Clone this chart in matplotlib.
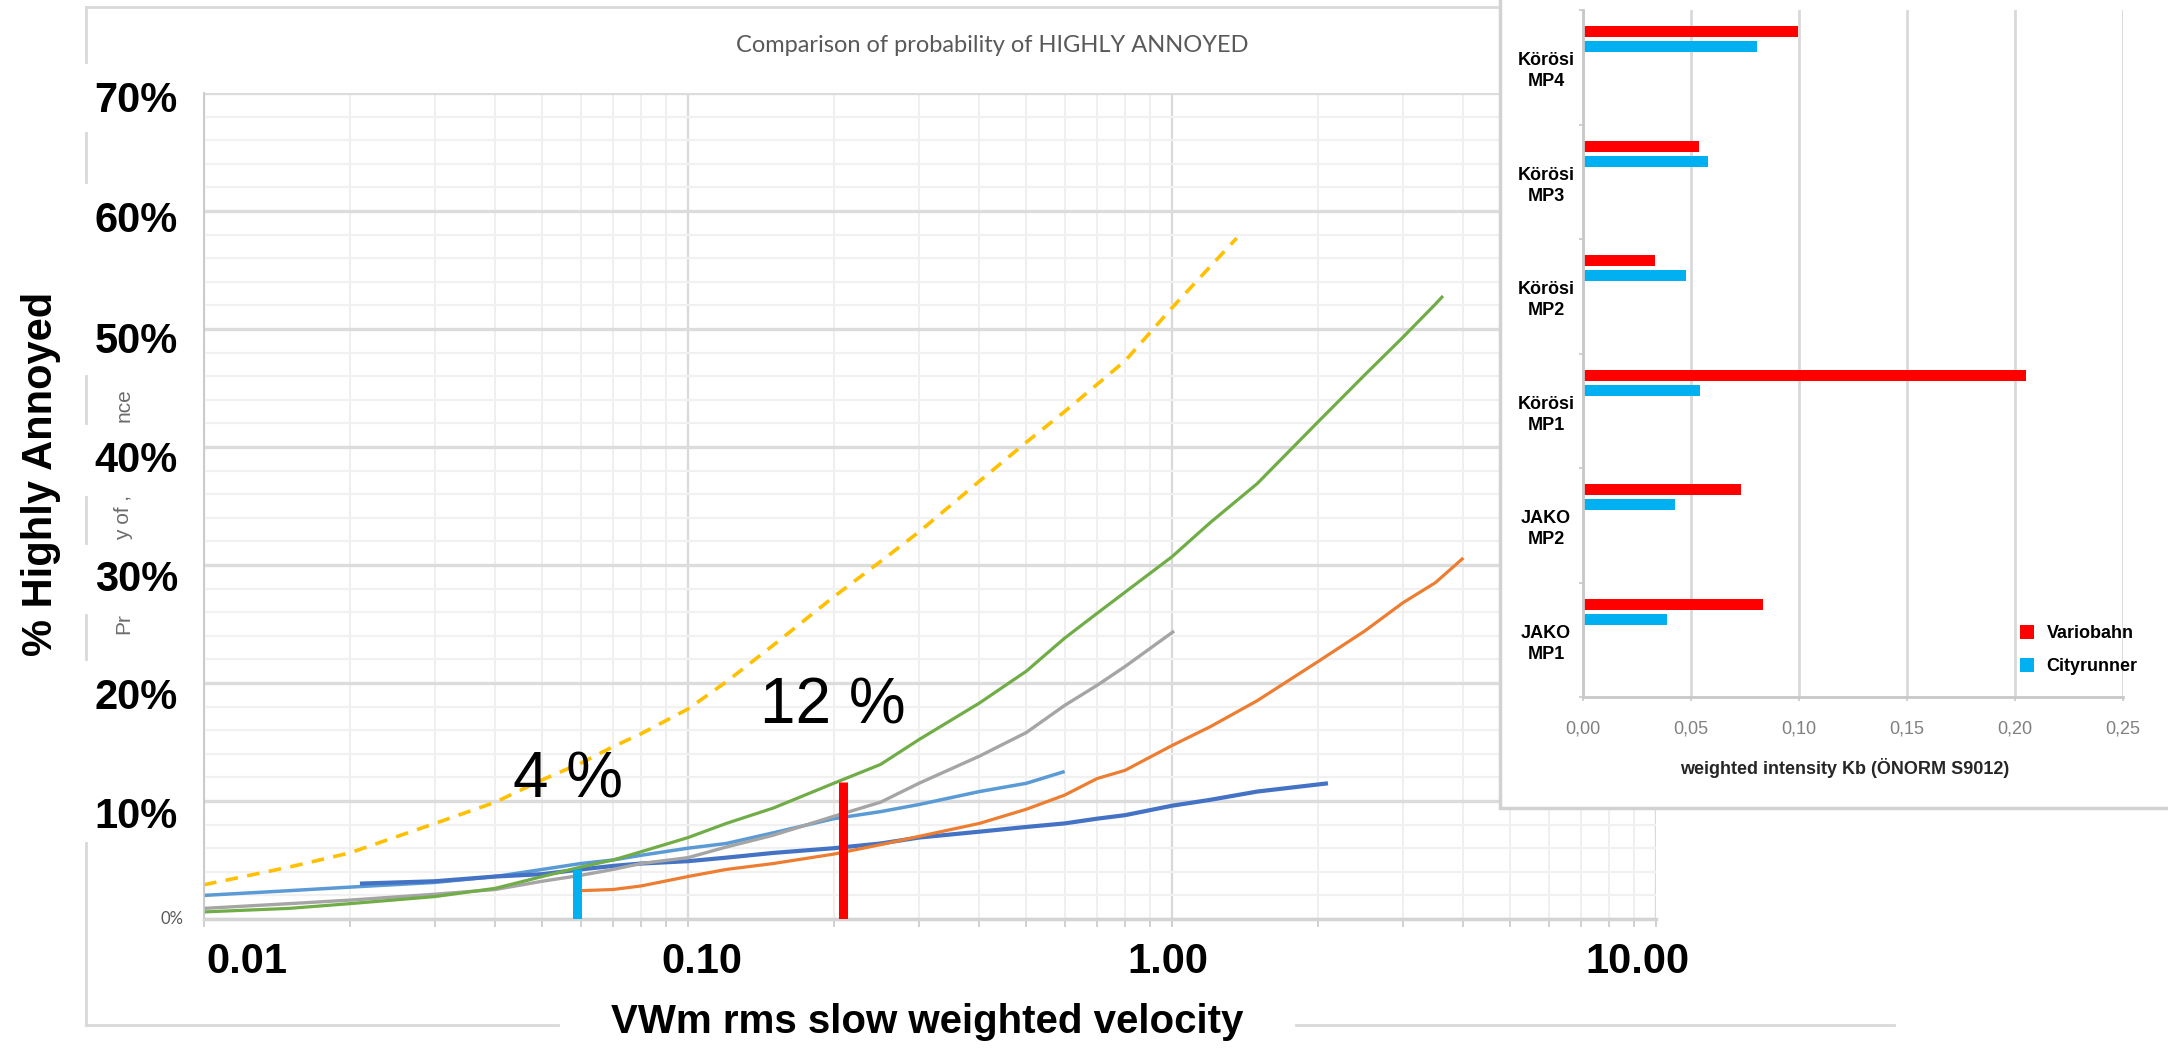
import numpy as np
import matplotlib
matplotlib.use('Agg')
import matplotlib.pyplot as plt
from matplotlib.patches import Rectangle
from matplotlib.lines import Line2D
from matplotlib.ticker import LogLocator, NullFormatter, FixedLocator, MultipleLocator

plt.rcParams['font.family'] = ['Liberation Sans', 'DejaVu Sans']

W, H = 2168, 1048

# --- main chart: % highly annoyed vs. VWm rms slow weighted velocity ---
yellow_x = [0.010, 0.015, 0.020, 0.030, 0.040, 0.050, 0.060, 0.070, 0.080, 0.10, 0.12, 0.15,
            0.20, 0.25, 0.30, 0.40, 0.50, 0.60, 0.70, 0.80, 1.00, 1.20, 1.36]
yellow_y = [2.9, 4.4, 5.6, 8.1, 9.9, 11.8, 13.2, 14.6, 15.7, 17.8, 20.1, 23.2,
            27.3, 30.3, 32.8, 37.1, 40.4, 43.0, 45.3, 47.3, 51.8, 55.3, 57.7]

green_x = [0.010, 0.015, 0.020, 0.030, 0.040, 0.050, 0.060, 0.070, 0.080, 0.10, 0.12, 0.15,
           0.20, 0.25, 0.30, 0.40, 0.50, 0.60, 0.70, 0.80, 1.00, 1.20, 1.50, 2.00, 2.50,
           3.00, 3.50, 3.63]
green_y = [0.6, 0.9, 1.3, 1.9, 2.6, 3.6, 4.4, 5.0, 5.7, 6.9, 8.1, 9.4,
           11.5, 13.1, 15.2, 18.3, 21.0, 23.8, 25.9, 27.7, 30.7, 33.6, 36.9, 42.1, 46.1,
           49.3, 52.1, 52.8]

gray_x = [0.010, 0.015, 0.020, 0.030, 0.040, 0.050, 0.060, 0.070, 0.080, 0.10, 0.12, 0.15,
          0.20, 0.25, 0.30, 0.40, 0.50, 0.60, 0.70, 0.80, 1.01]
gray_y = [0.9, 1.3, 1.6, 2.1, 2.5, 3.2, 3.7, 4.2, 4.7, 5.2, 6.1, 7.1,
          8.7, 9.9, 11.5, 13.8, 15.8, 18.1, 19.8, 21.4, 24.4]

lblue_x = [0.010, 0.015, 0.020, 0.030, 0.040, 0.050, 0.060, 0.070, 0.080, 0.10, 0.12, 0.15,
           0.20, 0.25, 0.30, 0.40, 0.50, 0.60]
lblue_y = [2.0, 2.4, 2.7, 3.1, 3.6, 4.2, 4.7, 5.0, 5.4, 6.0, 6.4, 7.3,
           8.5, 9.1, 9.7, 10.8, 11.5, 12.5]

dblue_x = [0.021, 0.030, 0.040, 0.050, 0.060, 0.070, 0.080, 0.10, 0.12, 0.15, 0.20, 0.25,
           0.30, 0.40, 0.50, 0.60, 0.70, 0.80, 1.00, 1.20, 1.50, 2.10]
dblue_y = [3.0, 3.2, 3.6, 3.8, 4.2, 4.5, 4.7, 4.9, 5.2, 5.6, 6.0, 6.4,
           6.9, 7.4, 7.8, 8.1, 8.5, 8.8, 9.6, 10.1, 10.8, 11.5]

orange_x = [0.060, 0.070, 0.080, 0.10, 0.12, 0.15, 0.20, 0.25, 0.30, 0.40, 0.50, 0.60,
            0.70, 0.80, 1.00, 1.20, 1.50, 2.00, 2.50, 3.00, 3.50, 4.00]
orange_y = [2.4, 2.5, 2.8, 3.6, 4.2, 4.7, 5.5, 6.3, 7.0, 8.1, 9.3, 10.5,
            11.9, 12.6, 14.7, 16.3, 18.5, 21.8, 24.4, 26.8, 28.5, 30.6]

# marker bars (velocity, % highly annoyed)
cyan_mark = (0.059, 4.2)
red_mark = (0.209, 11.6)

y_labels = ['70%', '60%', '50%', '40%', '30%', '20%', '10%']
x_labels = ['0.01', '0.10', '1.00', '10.00']

# --- inset: weighted intensity Kb ---
sites = ['JAKO\nMP1', 'JAKO\nMP2', 'Körösi\nMP1', 'Körösi\nMP2', 'Körösi\nMP3', 'Körösi\nMP4']
variobahn = [0.0835, 0.0731, 0.2049, 0.0333, 0.0535, 0.0995]
cityrunner = [0.0387, 0.0425, 0.0543, 0.0479, 0.0579, 0.0806]
kb_ticks = [0.00, 0.05, 0.10, 0.15, 0.20, 0.25]
kb_labels = ['0,00', '0,05', '0,10', '0,15', '0,20', '0,25']


def fx(px):
    return px / W


def fy(py):
    return 1 - py / H


fig = plt.figure(figsize=(W / 100, H / 100), dpi=100, facecolor='white')

# main axes
ax = fig.add_axes([fx(204), fy(919), fx(1656) - fx(204), fy(93) - fy(919)])
ax.set_xscale('log')
ax.set_xlim(0.01, 10)
ax.set_ylim(0, 0.70)
ax.xaxis.set_major_locator(LogLocator(base=10, numticks=10))
ax.xaxis.set_minor_locator(LogLocator(base=10, subs=np.arange(2, 10), numticks=20))
ax.xaxis.set_minor_formatter(NullFormatter())
ax.yaxis.set_major_locator(MultipleLocator(0.10))
ax.yaxis.set_minor_locator(MultipleLocator(0.02))
ax.tick_params(which='both', labelbottom=False, labelleft=False)
ax.tick_params(axis='y', which='both', length=0)
ax.tick_params(axis='x', which='both', direction='out', length=6, width=1.4, color='#d0d0d0')
ax.grid(True, which='major', axis='x', color='#d9d9d9', lw=1.6)
ax.grid(True, which='minor', axis='x', color='#eeeeee', lw=1.3)
ax.grid(True, which='major', axis='y', color='#dcdcdc', lw=2.4)
ax.grid(True, which='minor', axis='y', color='#f1f1f1', lw=1.6)
ax.set_axisbelow(True)
for s in ['top', 'right']:
    ax.spines[s].set_visible(False)
ax.spines['left'].set_color('#c8c8c8')
ax.spines['left'].set_linewidth(1.3)
ax.spines['bottom'].set_color('#d4d4d4')
ax.spines['bottom'].set_linewidth(2.5)

pct = lambda v: np.array(v) / 100.0
ax.plot(yellow_x, pct(yellow_y), color='#ffc000', lw=2.6, dashes=(3.5, 2.6))
ax.plot(lblue_x, pct(lblue_y), color='#5b9bd5', lw=2.5, solid_capstyle='butt')
ax.plot(dblue_x, pct(dblue_y), color='#4472c4', lw=3.0, solid_capstyle='butt')
ax.plot(gray_x, pct(gray_y), color='#a5a5a5', lw=2.4, solid_capstyle='butt')
ax.plot(orange_x, pct(orange_y), color='#ed7d31', lw=2.3, solid_capstyle='butt')
ax.plot(green_x, pct(green_y), color='#70ad47', lw=2.3, solid_capstyle='butt')
ax.vlines(cyan_mark[0], 0, cyan_mark[1] / 100, color='#00b0f0', lw=6.5, zorder=5)
ax.vlines(red_mark[0], 0, red_mark[1] / 100, color='#ff0000', lw=6.5, zorder=5)

# leftover pieces of the underlying chart frame
frame = dict(color='#d9d9d9', lw=2, zorder=0.5)
fig.add_artist(Line2D([fx(86), fx(1500)], [fy(7), fy(7)], **frame))
for a, b in [(7, 62), (133, 182), (376, 423), (497, 543), (615, 659), (843, 1025)]:
    fig.add_artist(Line2D([fx(86), fx(86)], [fy(a), fy(b)], **frame))
for a, b in [(86, 558), (1296, 1894)]:
    fig.add_artist(Line2D([fx(a), fx(b)], [fy(1025), fy(1025)], **frame))

fig.text(fx(992), fy(45), 'Comparison of probability of HIGHLY ANNOYED', ha='center', va='center',
         fontsize=17, color='#595959', family='Lato')
fig.text(fx(172), fy(919), '0%', ha='center', va='center', fontsize=12, color='#595959', family='Lato')
for txt, yy in zip(['nce', 'y of ,', 'Pr'], [405, 518, 624]):
    fig.text(fx(124), fy(yy), txt, rotation=90, ha='center', va='center', fontsize=15, color='#6b6b6b')

for lab, yy in zip(y_labels, [101, 221, 342, 461, 580, 698, 817]):
    fig.text(fx(178), fy(yy), lab, ha='right', va='center', fontsize=30, fontweight='bold')
for lab, xx in zip(x_labels, [247, 702, 1168, 1637]):
    fig.text(fx(xx), fy(962), lab, ha='center', va='center', fontsize=30, fontweight='bold')
fig.text(fx(927), fy(1022), 'VWm rms slow weighted velocity', ha='center', va='center',
         fontsize=29, fontweight='bold')
fig.text(fx(41), fy(474), '% Highly Annoyed', rotation=90, ha='center', va='center',
         fontsize=30, fontweight='bold')
fig.text(fx(513), fy(798), '4 %', ha='left', va='baseline', fontsize=46)
fig.text(fx(760), fy(723), '12 %', ha='left', va='baseline', fontsize=46)

# inset panel
fig.add_artist(Rectangle((fx(1500), fy(808)), 1.0, 1.0, transform=fig.transFigure,
                         facecolor='white', edgecolor='#d2d2d2', lw=2.5, zorder=1))

ax2 = fig.add_axes([fx(1583), fy(697), fx(2123) - fx(1583), fy(10) - fy(697)], zorder=2)
ax2.patch.set_visible(False)
pos = np.arange(len(sites))
ax2.barh(pos + 0.31, variobahn, height=0.095, color='#ff0000', label='Variobahn')
ax2.barh(pos + 0.18, cityrunner, height=0.095, color='#00b0f0', label='Cityrunner')
ax2.set_xlim(0, 0.25)
ax2.set_ylim(-0.5, len(sites) - 0.5)
ax2.set_xticks(kb_ticks)
ax2.set_xticklabels(kb_labels)
ax2.set_yticks(pos)
ax2.set_yticklabels(sites, fontsize=13, fontweight='bold', linespacing=1.3)
for t in ax2.get_yticklabels():
    t.set_ha('center')
ax2.yaxis.set_minor_locator(FixedLocator(np.arange(-0.5, len(sites), 1.0)))
ax2.tick_params(axis='y', which='major', length=0, pad=26.5)
ax2.tick_params(axis='y', which='minor', length=3, color='#c8c8c8', width=1.2)
ax2.tick_params(axis='x', length=3, color='#c8c8c8', width=1.2, pad=14, labelsize=13, labelcolor='#808080')
ax2.grid(True, axis='x', color='#d9d9d9', lw=2)
ax2.set_axisbelow(True)
for s in ['top', 'right']:
    ax2.spines[s].set_visible(False)
for s in ['left', 'bottom']:
    ax2.spines[s].set_color('#c8c8c8')
    ax2.spines[s].set_linewidth(2)
fig.text(fx(1845), fy(768), 'weighted intensity Kb (ÖNORM S9012)', ha='center', va='center',
         fontsize=13, fontweight='bold', color='#262626', zorder=3)
leg = ax2.legend(loc='upper left', bbox_to_anchor=(fx(2020), fy(625)), bbox_transform=fig.transFigure,
                 frameon=False, fontsize=13, handlelength=0.78, handleheight=0.78,
                 handletextpad=0.7, labelspacing=0.9, borderpad=0, borderaxespad=0)
for t in leg.get_texts():
    t.set_fontweight('bold')

fig.savefig('out.png', dpi=100, facecolor='white')
